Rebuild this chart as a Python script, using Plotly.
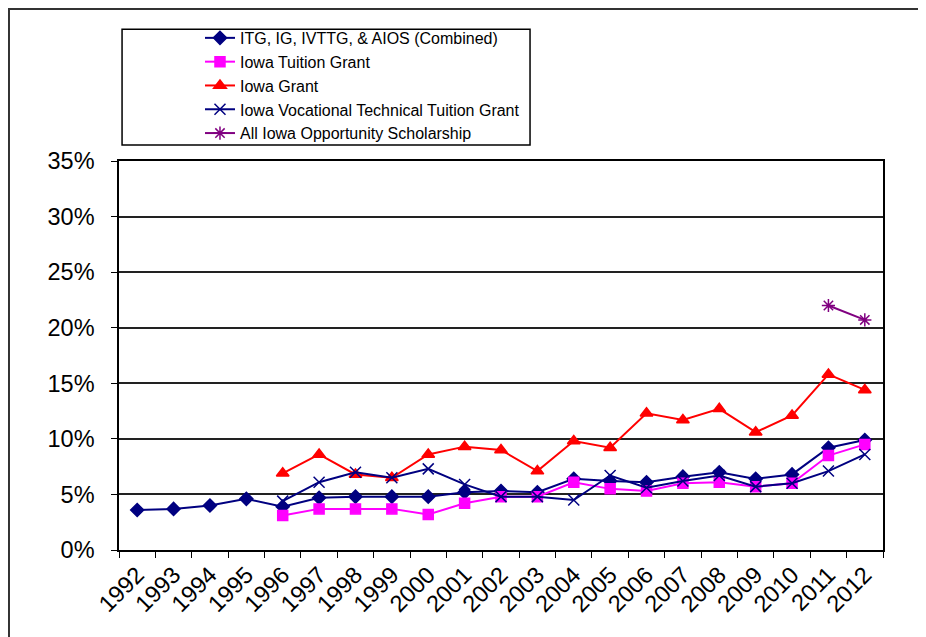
import plotly.graph_objects as go

years = [str(y) for y in range(1992, 2013)]

combined = [0.036, 0.037, 0.040, 0.046, 0.039, 0.047, 0.048, 0.048, 0.048, 0.052,
            0.053, 0.052, 0.064, 0.062, 0.061, 0.066, 0.070, 0.064, 0.068, 0.092, 0.099]
tuition = [None, None, None, None, 0.031, 0.037, 0.037, 0.037, 0.032, 0.042,
           0.048, 0.048, 0.061, 0.055, 0.053, 0.060, 0.061, 0.057, 0.060, 0.085, 0.095]
iowa_grant = [None, None, None, None, 0.069, 0.086, 0.068, 0.065, 0.086, 0.093,
              0.090, 0.071, 0.098, 0.092, 0.123, 0.117, 0.127, 0.106, 0.121, 0.158, 0.144]
voc_tech = [None, None, None, None, 0.044, 0.061, 0.070, 0.065, 0.073, 0.059,
            0.048, 0.048, 0.045, 0.067, 0.056, 0.062, 0.067, 0.057, 0.060, 0.071, 0.086]
aios = [None] * 19 + [0.220, 0.207]

series = [
    ("ITG, IG, IVTTG, & AIOS (Combined)", combined, "#000080", "diamond", 10),
    ("Iowa Tuition Grant", tuition, "#FF00FF", "square", 10),
    ("Iowa Grant", iowa_grant, "#FF0000", "triangle-up", 11),
    ("Iowa Vocational Technical Tuition Grant", voc_tech, "#000080", "x-thin-open", 11),
    ("All Iowa Opportunity Scholarship", aios, "#800080", "asterisk-open", 11),
]

fig = go.Figure()
for name, vals, color, symbol, size in series:
    fig.add_trace(go.Scatter(
        x=years, y=vals, name=name, mode="lines+markers",
        line=dict(color=color, width=2),
        marker=dict(symbol=symbol, size=size, color=color,
                    line=dict(color=color, width=1.5)),
    ))

# legend frame and outer chart frame (Excel style)
fig.add_shape(type="rect", xref="paper", yref="paper",
              x0=0.004, x1=0.538, y0=1.041, y1=1.339,
              line=dict(color="black", width=1.5))
fig.add_shape(type="rect", xref="paper", yref="paper",
              x0=-0.144, x1=1.3, y0=-0.6, y1=1.391,
              line=dict(color="#333", width=2))

tick_font = dict(family="Liberation Sans, Arial, sans-serif", size=23.5, color="black")
fig.update_xaxes(
    type="category", range=[-0.5, 20.5], tickson="boundaries",
    ticks="outside", ticklen=6, tickcolor="black", tickangle=-45,
    showline=True, linecolor="black", linewidth=1.5, mirror=True,
    showgrid=False, tickfont=tick_font,
)
fig.update_yaxes(
    range=[0, 0.35], dtick=0.05, tickformat=".0%",
    ticks="outside", ticklen=6, tickcolor="black", ticklabelstandoff=12,
    showline=True, linecolor="black", linewidth=1.5, mirror=True,
    showgrid=True, gridcolor="#222", gridwidth=1.5, zeroline=False,
    tickfont=tick_font,
)
fig.update_layout(
    width=918, height=629,
    margin=dict(l=111, r=43, t=153, b=87),
    paper_bgcolor="white", plot_bgcolor="white",
    font=dict(family="Liberation Sans, Arial, sans-serif", color="black"),
    legend=dict(x=0.106, y=1.360, xanchor="left", yanchor="top",
                bgcolor="rgba(0,0,0,0)", borderwidth=0,
                font=dict(size=16), tracegroupgap=0),
)
fig.write_html("out.html")
